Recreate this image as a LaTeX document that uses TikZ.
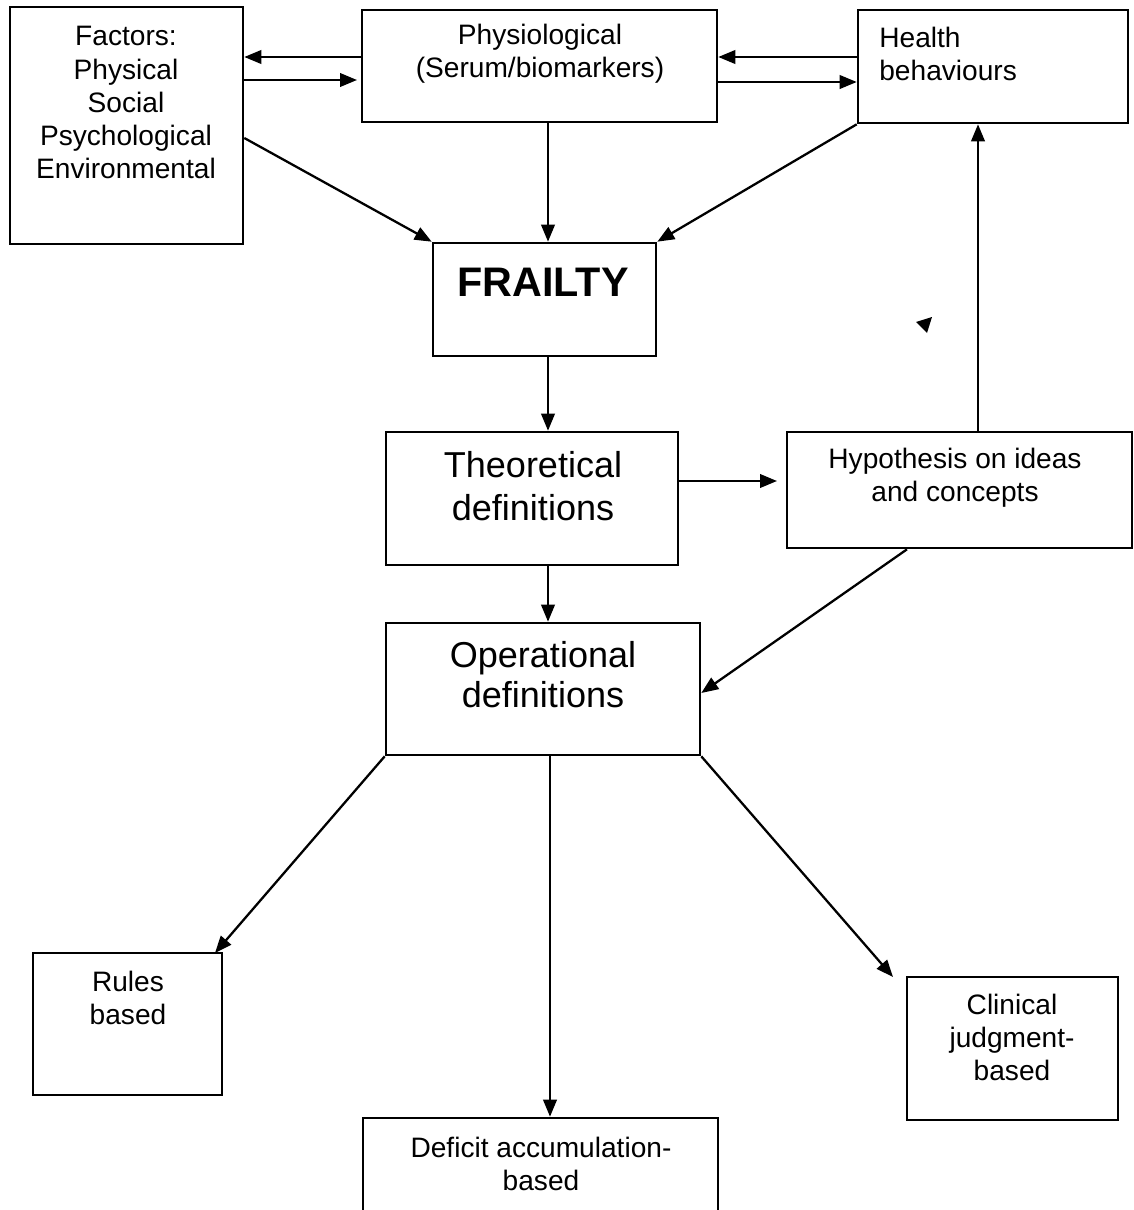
\documentclass[tikz,border=0pt]{standalone}
\usepackage{fontspec}
\setmainfont{Liberation Sans}
\usetikzlibrary{calc,arrows.meta,positioning}
\tikzstyle{flow_box}=[rectangle,
        draw=black,
        line width=1.5pt,
        inner sep=0pt, ]
\tikzstyle{box_text}=[align=center,
        inner sep=0pt,
        font=\fontsize{16}{18.8}\selectfont, ]
\tikzstyle{big_text}=[align=center,
        inner sep=0pt,
        font=\fontsize{20.5}{24.4}\selectfont, ]
\tikzstyle{flow_arrow}=[line width=1.3pt,
        -{Triangle[length=0.34cm, width=0.27cm]}, ]
\definecolor{InkColor}{rgb}{0,0,0}

\begin{document}
\begin{tikzpicture}[x=0.02cm, y=-0.02cm]
    \useasboundingbox (0,0) rectangle (1133,1210);
    \clip (0,0) rectangle (1133,1210);

    % boxes
    \node at (126.5, 125.5) (factors) [flow_box, minimum width=4.66cm, minimum height=4.74cm] {};
    \node at (539.5, 66) (physio) [flow_box, minimum width=7.1cm, minimum height=2.24cm] {};
    \node at (993, 66.5) (health) [flow_box, minimum width=5.4cm, minimum height=2.26cm] {};
    \node at (544.5, 299.5) (frailty) [flow_box, minimum width=4.46cm, minimum height=2.26cm] {};
    \node at (532, 498.5) (theory) [flow_box, minimum width=5.84cm, minimum height=2.66cm] {};
    \node at (959.5, 490) (hypo) [flow_box, minimum width=6.9cm, minimum height=2.32cm] {};
    \node at (543, 689) (operational) [flow_box, minimum width=6.28cm, minimum height=2.64cm] {};
    \node at (127.5, 1024) (rules) [flow_box, minimum width=3.78cm, minimum height=2.84cm] {};
    \node at (1012.5, 1048.5) (clinical) [flow_box, minimum width=4.22cm, minimum height=2.86cm] {};
    \node at (540.5, 1179) (deficit) [flow_box, minimum width=7.1cm, minimum height=2.44cm] {};

    % texts
    \node at (126, 102.5) (factors-txt) [box_text] {Factors:\\Physical\\Social\\Psychological\\Environmental};
    \node at (540, 54) (physio-txt) [box_text] {Physiological\\(Serum/biomarkers)};
    \node at (879, 53.5) (health-txt) [box_text, anchor=west, align=left] {Health\\behaviours};
    \node at (543, 282) (frailty-txt) [inner sep=0pt, font=\fontsize{23.5}{28}\selectfont\bfseries] {FRAILTY};
    \node at (533, 486.5) (theory-txt) [big_text] {Theoretical\\definitions};
    \node at (955, 477.5) (hypo-txt) [box_text] {Hypothesis on ideas\\and concepts};
    \node at (543, 675) (operational-txt) [big_text, font=\fontsize{20.5}{22.7}\selectfont] {Operational\\definitions};
    \node at (128, 997.5) (rules-txt) [box_text] {Rules\\based};
    \node at (1012, 1037.5) (clinical-txt) [box_text] {Clinical\\judgment-\\based};
    \node at (541, 1164) (deficit-txt) [box_text] {Deficit accumulation-\\based};

    \draw[flow_arrow] (physio.west |- 0,57) -- (factors.east |- 0,57);
    \draw[flow_arrow] (factors.east |- 0,80) -- (357,80);
    \draw[flow_arrow] (health.west |- 0,57) -- (physio.east |- 0,57);
    \draw[flow_arrow] (physio.east |- 0,82) -- (health.west |- 0,82);
    \draw[flow_arrow] (factors.east |- 0,138) -- (frailty.north west);
    \draw[flow_arrow] (physio.south -| 548,0) -- (frailty.north -| 548,0);
    \draw[flow_arrow] (health.south west) -- (frailty.north east);
    \draw[flow_arrow] (frailty.south -| 548,0) -- (theory.north -| 548,0);
    \draw[flow_arrow] (theory.east |- 0,481) -- (777,481);
    \draw[flow_arrow] (hypo.north -| 978,0) -- (health.south -| 978,0);
    \draw[flow_arrow] (hypo.south -| 907,0) -- (operational.east |- 0,693);
    \draw[flow_arrow] (theory.south -| 548,0) -- (operational.north -| 548,0);
    \draw[flow_arrow] (operational.south west) -- (215,953);
    \draw[flow_arrow] (operational.south -| 550,0) -- (deficit.north -| 550,0);
    \draw[flow_arrow] (operational.south east) -- (893,977);

    \fill[InkColor] (916,322) -- (932,317) -- (927,333) -- cycle;

\end{tikzpicture}
\end{document}
